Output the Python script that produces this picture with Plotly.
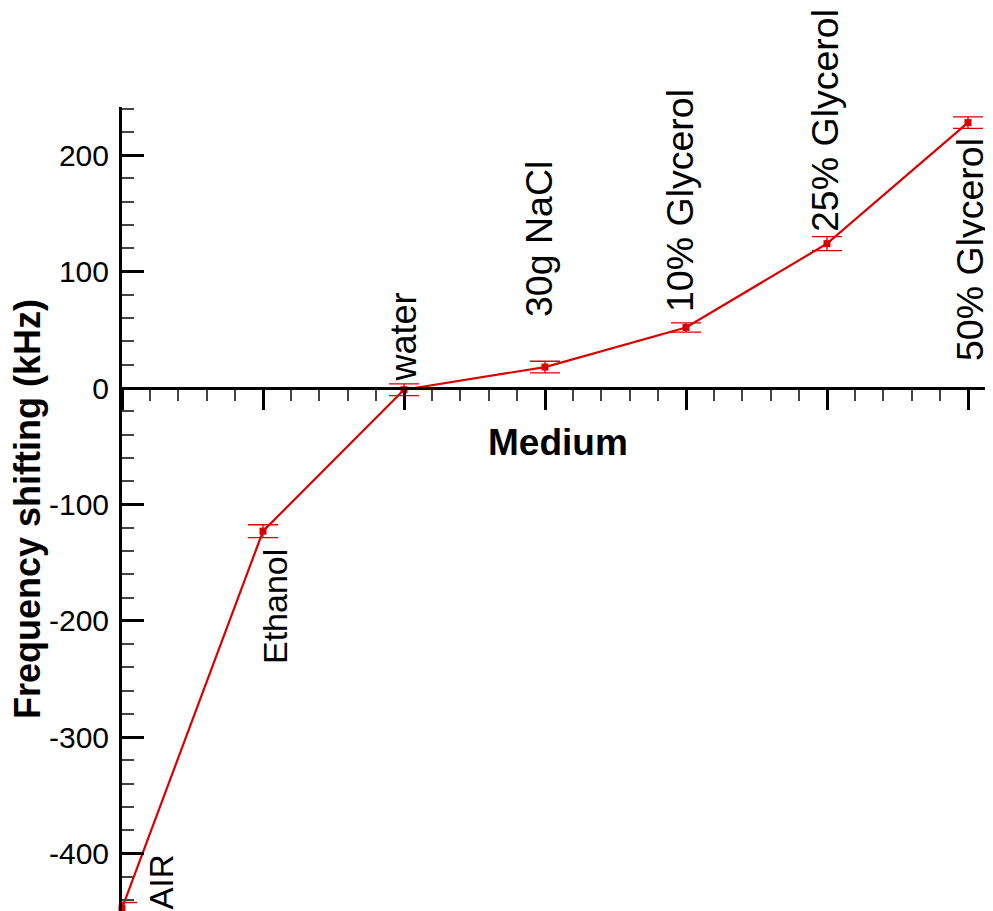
import plotly.graph_objects as go

# ---- data ----
categories = ["AIR", "Ethanol", "water", "30g NaCl", "10% Glycerol", "25% Glycerol", "50% Glycerol"]
freq_shift = [-447, -123, -1.5, 18, 52, 124, 228]
freq_err = [5, 5.5, 5, 5, 4, 6, 5]
y_tickvals = [-400, -300, -200, -100, 0, 100, 200]
y_ticktext = ["-400", "-300", "-200", "-100", "0", "100", "200"]

# ---- layout constants (page body has an 8px margin) ----
OFF = 8
W, H = 993 - OFF, 911 - OFF
Y0 = 388 - OFF          # pixel row of value 0 inside the figure
ML, MR, MT, MB = 122 - OFF, 0, 107 - OFF, 0
px_per_cat = 141.0
px_per_unit = 1.164
x_max = (W - ML - MR) / px_per_cat
y_max = (Y0 - MT) / px_per_unit
y_min = -(H - MB - Y0) / px_per_unit

RED = "#d80000"
FONT = "Liberation Sans, Arial, sans-serif"

xs = list(range(len(categories)))

fig = go.Figure()
fig.add_trace(go.Scatter(
    x=xs, y=freq_shift, mode="lines+markers",
    line=dict(color=RED, width=2.2),
    marker=dict(symbol="square", size=7, color=RED),
    error_y=dict(type="data", array=freq_err, visible=True, color=RED, thickness=1.3, width=15),
    cliponaxis=False, showlegend=False,
))

# label centres in reference-pixel coordinates, with font size
label_px = [(160.5, 882, 33), (275, 607, 34), (402.5, 337, 36), (539, 239, 37.5),
            (680, 201, 37.5), (825, 121, 37.5), (970, 250, 37.5)]
annotations = []
for name, (px, py, fs) in zip(categories, label_px):
    annotations.append(dict(
        x=(px - OFF - ML) / px_per_cat, y=(Y0 - (py - OFF)) / px_per_unit, xref="x", yref="y",
        text=name, textangle=-90, showarrow=False, xanchor="center", yanchor="middle",
        font=dict(family=FONT, size=fs, color="black"),
    ))
annotations.append(dict(
    x=(558 - OFF - ML) / px_per_cat, y=(Y0 - (442 - OFF)) / px_per_unit, xref="x", yref="y",
    text="<b>Medium</b>", showarrow=False, xanchor="center", yanchor="middle",
    font=dict(family=FONT, size=37, color="black"),
))
annotations.append(dict(
    x=(27 - OFF - ML) / (W - ML - MR), y=0.5, xref="paper", yref="paper",
    text="<b>Frequency shifting (kHz)</b>", textangle=-90, showarrow=False,
    xanchor="center", yanchor="middle",
    font=dict(family=FONT, size=36, color="black"),
))

zero_pos = (0 - y_min) / (y_max - y_min)

fig.update_layout(
    width=W, height=H,
    margin=dict(l=ML, r=MR, t=MT, b=MB, pad=0),
    paper_bgcolor="white", plot_bgcolor="white",
    font=dict(family=FONT, color="black"),
    annotations=annotations,
    xaxis=dict(
        range=[0, x_max], showgrid=False, zeroline=False,
        anchor="free", position=zero_pos,
        showline=True, linecolor="black", linewidth=3,
        tickmode="array", tickvals=xs, showticklabels=False,
        ticks="outside", ticklen=20, tickwidth=3, tickcolor="black",
        minor=dict(dtick=0.2, tick0=0, ticks="outside", ticklen=11, tickwidth=1.5, tickcolor="#444444"),
    ),
    yaxis=dict(
        range=[y_min, y_max], showgrid=False, zeroline=False,
        showline=True, linecolor="black", linewidth=3,
        tickmode="array", tickvals=y_tickvals, ticktext=y_ticktext,
        ticks="inside", ticklen=22, tickwidth=3, tickcolor="black",
        ticklabelstandoff=4,
        tickfont=dict(family=FONT, size=30, color="black"),
        minor=dict(dtick=20, tick0=0, ticks="inside", ticklen=12, tickwidth=1.5, tickcolor="#444444"),
    ),
)

fig.write_html("out.html")
